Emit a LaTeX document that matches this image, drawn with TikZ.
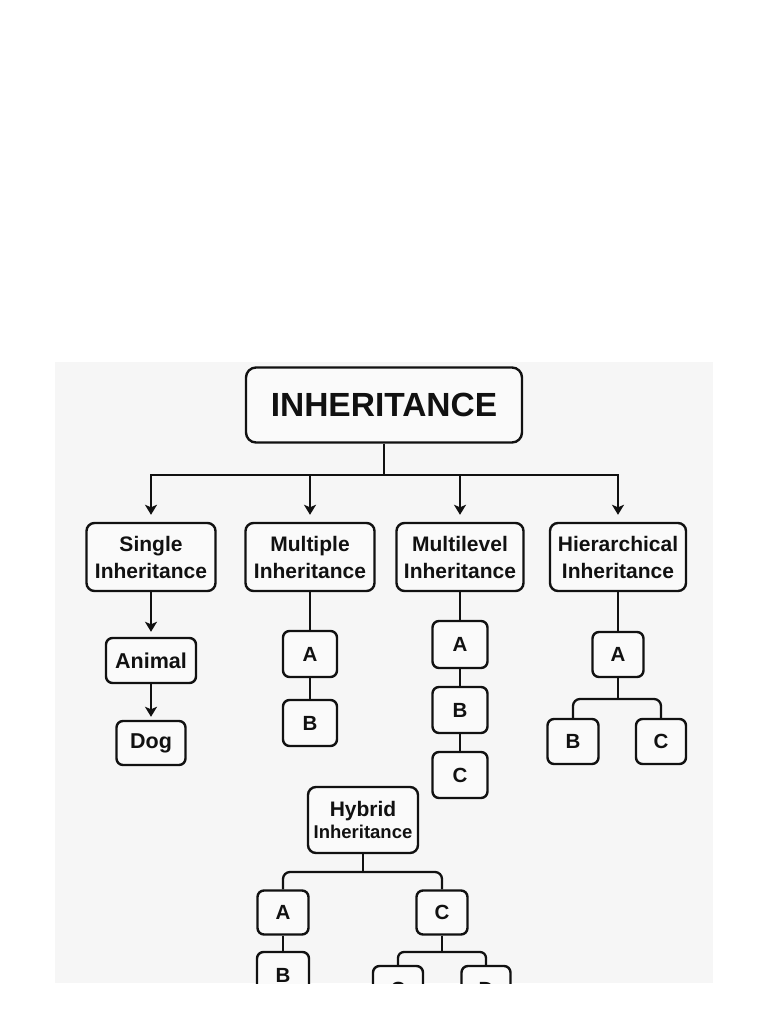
\documentclass[tikz,border=0pt]{standalone}
\usepackage{fontspec}
\setmainfont{Liberation Sans}
\usetikzlibrary{arrows.meta}
\definecolor{panel}{HTML}{F6F6F6}
\definecolor{boxfill}{HTML}{FAFAFA}
\definecolor{ink}{HTML}{111111}
\begin{document}
\begin{tikzpicture}[x=1pt,y=-1pt,
  box/.style={draw=ink, line width=2.4pt, rounded corners=8pt, fill=boxfill, inner sep=0pt,
    align=center, text=ink, font=\bfseries\fontsize{21}{27}\selectfont},
  leaf/.style={box, rounded corners=6.5pt, font=\bfseries\fontsize{20.5}{24}\selectfont},
  ln/.style={draw=ink, line width=2.3pt},
  arr/.style={ln, -{Stealth[length=10pt,width=12pt,inset=2.5pt]}},
]
\useasboundingbox (0,0) rectangle (768,1024);
\fill[white] (0,0) rectangle (768,1024);
\fill[panel] (55,362) rectangle (713,983);
\begin{scope}
\clip (55,362) rectangle (713,983);

% title
\node[box, minimum width=276pt, minimum height=75pt, rounded corners=10pt,
      font=\bfseries\fontsize{33.5}{36}\selectfont] (title) at (384,405) {INHERITANCE};

% level 2
\node[box, minimum width=129pt, minimum height=68pt] (single) at (151,557) {Single\\Inheritance};
\node[box, minimum width=129pt, minimum height=68pt] (multiple) at (310,557) {Multiple\\Inheritance};
\node[box, minimum width=127pt, minimum height=68pt] (multilevel) at (460,557) {Multilevel\\Inheritance};
\node[box, minimum width=136pt, minimum height=68pt] (hier) at (618,557) {Hierarchical\\Inheritance};

% single column
\node[leaf, minimum width=90pt, minimum height=45pt, font=\bfseries\fontsize{21.5}{24}\selectfont] (animal) at (151,660.5) {Animal};
\node[leaf, minimum width=69pt, minimum height=44pt, font=\bfseries\fontsize{21.5}{24}\selectfont] (dog) at (151,743) {Dog};

% multiple column
\node[leaf, minimum width=54pt, minimum height=46pt] (mA) at (310,654) {A};
\node[leaf, minimum width=54pt, minimum height=46pt] (mB) at (310,723) {B};

% multilevel column
\node[leaf, minimum width=55pt, minimum height=47pt] (lA) at (460,644.5) {A};
\node[leaf, minimum width=55pt, minimum height=46pt] (lB) at (460,710) {B};
\node[leaf, minimum width=55pt, minimum height=46pt] (lC) at (460,775) {C};

% hierarchical column
\node[leaf, minimum width=51pt, minimum height=45pt] (hA) at (618,654.5) {A};
\node[leaf, minimum width=51pt, minimum height=45pt] (hB) at (573,741.5) {B};
\node[leaf, minimum width=50pt, minimum height=45pt] (hC) at (661,741.5) {C};

% hybrid
\node[box, minimum width=110pt, minimum height=66pt,
      font=\bfseries\fontsize{18.5}{22}\selectfont] (hybrid) at (363,820)
      {{\fontsize{21}{22}\selectfont Hybrid}\\Inheritance};
\node[leaf, minimum width=51pt, minimum height=44pt] (yA) at (283,912.5) {A};
\node[leaf, minimum width=51pt, minimum height=44pt] (yC) at (442,912.5) {C};
\node[leaf, minimum width=52pt, minimum height=46pt] (yB) at (283,975) {B};
\node[leaf, minimum width=50pt, minimum height=46pt] (yC2) at (398,989) {C};
\node[leaf, minimum width=49pt, minimum height=46pt] (yD) at (486,989) {D};

% connectors: top bus
\coordinate (bus) at (384,475);
\draw[ln] (title) -- (bus);
\draw[ln, line cap=rect] (bus -| single.north) -- (bus -| hier.north);
\foreach \n in {single,multiple,multilevel,hier}
  \draw[arr, shorten >=7pt] (bus -| \n.north) -- (\n.north);

% single
\draw[arr, shorten >=5pt] (single) -- (animal);
\draw[arr, shorten >=3pt] (animal) -- (dog);

% multiple
\draw[ln] (multiple) -- (mA);
\draw[ln] (mA) -- (mB);

% multilevel
\draw[ln] (multilevel) -- (lA);
\draw[ln] (lA) -- (lB);
\draw[ln] (lB) -- (lC);

% hierarchical
\coordinate (hbr) at (618,699);
\draw[ln] (hier) -- (hA);
\draw[ln] (hA) -- (hbr);
\draw[ln, rounded corners=7pt] (hB.north) |- (hbr) -| (hC.north);

% hybrid
\coordinate (ybr) at (363,872);
\draw[ln] (hybrid) -- (ybr);
\draw[ln, rounded corners=7pt] (yA.north) |- (ybr) -| (yC.north);
\draw[ln] (yA) -- (yB);
\coordinate (cbr) at (442,952);
\draw[ln] (yC) -- (cbr);
\draw[ln, rounded corners=6pt] (yC2.north) |- (cbr) -| (yD.north);
\end{scope}
\end{tikzpicture}
\end{document}
